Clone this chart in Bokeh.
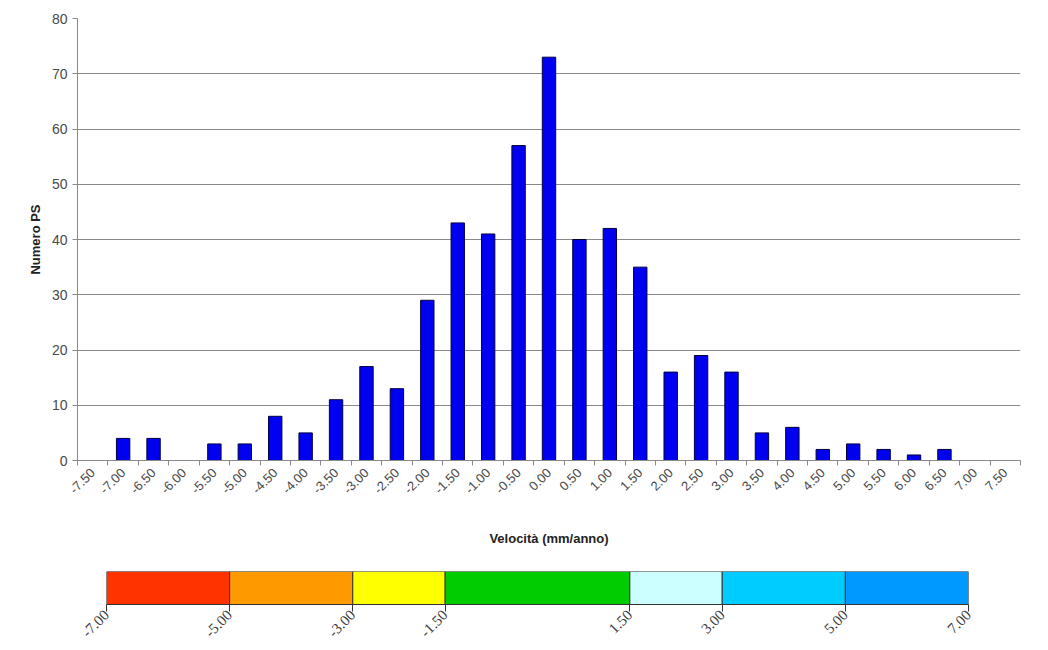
import math
from bokeh.plotting import figure
from bokeh.models import FixedTicker
from bokeh.layouts import column, row
from bokeh.embed import file_html
from bokeh.resources import INLINE

# ---- data ----
categories = ["-7.50", "-7.00", "-6.50", "-6.00", "-5.50", "-5.00", "-4.50", "-4.00",
              "-3.50", "-3.00", "-2.50", "-2.00", "-1.50", "-1.00", "-0.50", "0.00",
              "0.50", "1.00", "1.50", "2.00", "2.50", "3.00", "3.50", "4.00",
              "4.50", "5.00", "5.50", "6.00", "6.50", "7.00", "7.50"]
counts = [0, 4, 4, 0, 3, 3, 8, 5,
          11, 17, 13, 29, 43, 41, 57, 73,
          40, 42, 35, 16, 19, 16, 5, 6,
          2, 3, 2, 1, 2, 0, 0]
y_ticks = [0, 10, 20, 30, 40, 50, 60, 70, 80]

scale_breaks = [-7.0, -5.0, -3.0, -1.5, 1.5, 3.0, 5.0, 7.0]
scale_labels = ["-7.00", "-5.00", "-3.00", "-1.50", "1.50", "3.00", "5.00", "7.00"]
scale_colors = ["#FF3300", "#FF9900", "#FFFF00", "#00CC00", "#CCFFFF", "#00CCFF", "#0099FF"]

FONT = "Liberation Sans"
SERIF = "Liberation Serif"

idx = list(range(len(categories)))

# ---- histogram ----
p1 = figure(width=1040, height=556, x_range=(-0.5, len(categories) - 0.5), y_range=(0, 80),
            output_backend="svg", toolbar_location=None,
            min_border_left=77, min_border_right=20, min_border_top=18, min_border_bottom=96)
p1.outline_line_color = None
p1.background_fill_color = "white"

p1.vbar(x=idx, top=counts, width=0.44, fill_color="#0000F0", line_color="#000040", line_width=1)

p1.xgrid.visible = False
p1.ygrid.grid_line_color = "#8a8a8a"
p1.ygrid.grid_line_width = 1
p1.ygrid.ticker = FixedTicker(ticks=y_ticks)

xa = p1.xaxis[0]
xa.ticker = FixedTicker(ticks=idx, minor_ticks=[i - 0.5 for i in range(len(categories) + 1)])
xa.major_label_overrides = {i: c for i, c in zip(idx, categories)}
xa.major_label_orientation = math.pi / 4
xa.major_tick_out = 0
xa.major_tick_in = 0
xa.minor_tick_out = 5
xa.minor_tick_in = 0
xa.minor_tick_line_color = "#8a8a8a"
xa.axis_line_color = "#8a8a8a"
xa.major_label_text_font = FONT
xa.major_label_text_font_size = "13px"
xa.major_label_text_color = "#4a4a4a"
xa.major_label_standoff = 5
xa.axis_label = "Velocità (mm/anno)"
xa.axis_label_text_font = FONT
xa.axis_label_text_font_style = "bold"
xa.axis_label_text_font_size = "13px"
xa.axis_label_text_color = "#222222"
xa.axis_label_standoff = 30

ya = p1.yaxis[0]
ya.ticker = FixedTicker(ticks=y_ticks)
ya.major_tick_out = 5
ya.major_tick_in = 0
ya.minor_tick_out = 0
ya.minor_tick_in = 0
ya.major_tick_line_color = "#8a8a8a"
ya.axis_line_color = "#8a8a8a"
ya.major_label_text_font = FONT
ya.major_label_text_font_size = "14px"
ya.major_label_text_color = "#4a4a4a"
ya.major_label_standoff = 5
ya.axis_label = "Numero PS"
ya.axis_label_text_font = FONT
ya.axis_label_text_font_style = "bold"
ya.axis_label_text_font_size = "13px"
ya.axis_label_text_color = "#222222"
ya.axis_label_standoff = 6

# ---- colour scale ----
p2 = figure(width=1040, height=88, x_range=(scale_breaks[0], scale_breaks[-1]), y_range=(0, 1),
            output_backend="svg", toolbar_location=None,
            min_border_left=106, min_border_right=72, min_border_top=15, min_border_bottom=40)
p2.outline_line_color = None
p2.grid.visible = False
p2.yaxis.visible = False
p2.quad(left=scale_breaks[:-1], right=scale_breaks[1:], bottom=0, top=1,
        fill_color=scale_colors, line_color="#333333", line_width=1)

xb = p2.xaxis[0]
xb.ticker = FixedTicker(ticks=scale_breaks)
xb.major_label_overrides = {b: l for b, l in zip(scale_breaks, scale_labels)}
xb.major_label_orientation = math.pi / 4
xb.major_tick_out = 7
xb.major_tick_in = 0
xb.minor_tick_out = 0
xb.minor_tick_in = 0
xb.major_tick_line_color = "#333333"
xb.axis_line_color = "#333333"
xb.major_label_text_font = SERIF
xb.major_label_text_font_size = "15px"
xb.major_label_text_color = "#3a3a3a"
xb.major_label_standoff = 1

layout = column(row(p1), row(p2))
open("out.html", "w").write(file_html(layout, INLINE))
